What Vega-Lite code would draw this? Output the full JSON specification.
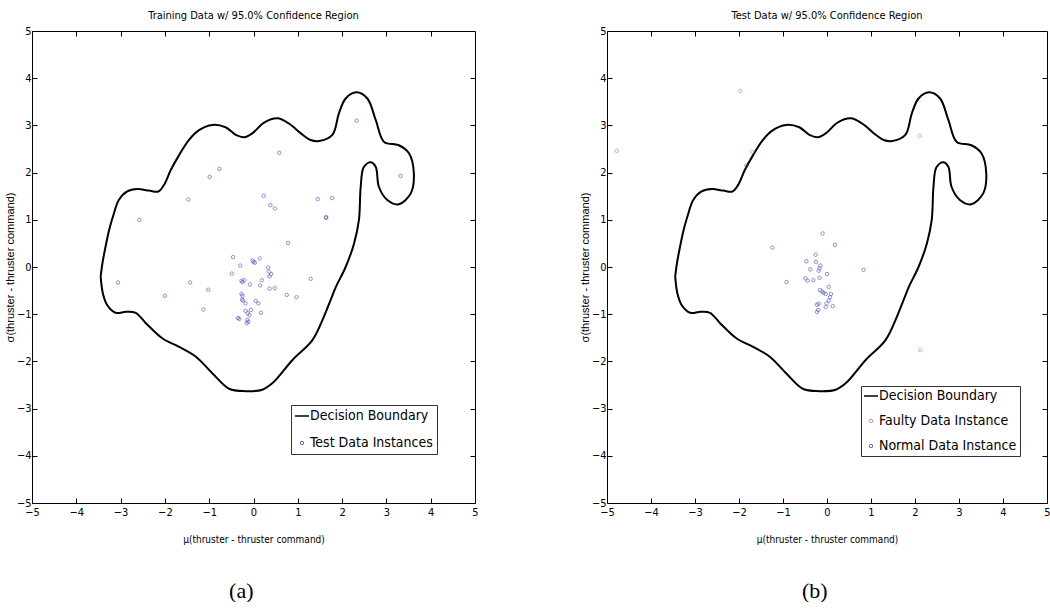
{
  "$schema": "https://vega.github.io/schema/vega-lite/v6.json",
  "padding": {"left": 4, "top": 10, "right": 0, "bottom": 0},
  "background": "white",
  "config": {"view": {"stroke": null}},
  "datasets": {
    "boundary": [
      {"i":1,"x":-3.45,"y":-0.2},{"i":2,"x":-3.41,"y":0.08},{"i":3,"x":-3.34,"y":0.43},{"i":4,"x":-3.26,"y":0.78},
      {"i":5,"x":-3.15,"y":1.14},{"i":6,"x":-3.04,"y":1.42},{"i":7,"x":-2.85,"y":1.6},{"i":8,"x":-2.62,"y":1.65},
      {"i":9,"x":-2.36,"y":1.62},{"i":10,"x":-2.15,"y":1.6},{"i":11,"x":-2.02,"y":1.74},{"i":12,"x":-1.87,"y":2.05},
      {"i":13,"x":-1.68,"y":2.37},{"i":14,"x":-1.46,"y":2.69},{"i":15,"x":-1.23,"y":2.9},{"i":16,"x":-0.93,"y":3.01},
      {"i":17,"x":-0.63,"y":2.96},{"i":18,"x":-0.4,"y":2.8},{"i":19,"x":-0.21,"y":2.75},{"i":20,"x":-0.03,"y":2.83},
      {"i":21,"x":0.24,"y":3.06},{"i":22,"x":0.54,"y":3.15},{"i":23,"x":0.8,"y":3.04},{"i":24,"x":1.07,"y":2.83},
      {"i":25,"x":1.29,"y":2.69},{"i":26,"x":1.48,"y":2.67},{"i":27,"x":1.78,"y":2.8},{"i":28,"x":1.93,"y":3.26},
      {"i":29,"x":2.08,"y":3.57},{"i":30,"x":2.32,"y":3.7},{"i":31,"x":2.57,"y":3.57},{"i":32,"x":2.76,"y":3.11},
      {"i":33,"x":2.95,"y":2.65},{"i":34,"x":3.28,"y":2.58},{"i":35,"x":3.51,"y":2.41},{"i":36,"x":3.62,"y":1.98},
      {"i":37,"x":3.55,"y":1.56},{"i":38,"x":3.28,"y":1.33},{"i":39,"x":3.02,"y":1.42},{"i":40,"x":2.83,"y":1.7},
      {"i":41,"x":2.76,"y":2.12},{"i":42,"x":2.65,"y":2.22},{"i":43,"x":2.49,"y":2.12},{"i":44,"x":2.42,"y":1.7},
      {"i":45,"x":2.38,"y":1.0},{"i":46,"x":2.27,"y":0.5},{"i":47,"x":2.08,"y":0.0},{"i":48,"x":1.86,"y":-0.42},
      {"i":49,"x":1.74,"y":-0.7},{"i":50,"x":1.59,"y":-1.05},{"i":51,"x":1.33,"y":-1.55},{"i":52,"x":0.88,"y":-1.97},
      {"i":53,"x":0.43,"y":-2.46},{"i":54,"x":0.2,"y":-2.6},{"i":55,"x":-0.18,"y":-2.63},{"i":56,"x":-0.55,"y":-2.58},
      {"i":57,"x":-0.93,"y":-2.25},{"i":58,"x":-1.3,"y":-1.9},{"i":59,"x":-1.68,"y":-1.69},{"i":60,"x":-2.06,"y":-1.51},
      {"i":61,"x":-2.43,"y":-1.19},{"i":62,"x":-2.66,"y":-0.97},{"i":63,"x":-2.88,"y":-0.95},{"i":64,"x":-3.11,"y":-0.97},
      {"i":65,"x":-3.3,"y":-0.81},{"i":66,"x":-3.4,"y":-0.56},{"i":67,"x":-3.45,"y":-0.2}
    ],
    "train": [
      {"x":2.33,"y":3.1},{"x":3.32,"y":1.93},{"x":0.58,"y":2.42},{"x":-0.77,"y":2.08},{"x":-0.99,"y":1.91},
      {"x":-1.47,"y":1.43},{"x":-2.58,"y":1.0},{"x":0.23,"y":1.51},{"x":0.38,"y":1.31},{"x":0.48,"y":1.24},
      {"x":1.45,"y":1.44},{"x":1.78,"y":1.46},{"x":1.64,"y":1.04},{"x":1.64,"y":1.06},{"x":0.78,"y":0.51},
      {"x":-0.46,"y":0.21},{"x":0.0,"y":0.11},{"x":-0.02,"y":0.14},{"x":0.03,"y":0.09},{"x":0.14,"y":0.18},
      {"x":-0.3,"y":0.03},{"x":0.33,"y":-0.01},{"x":0.35,"y":-0.1},{"x":0.4,"y":-0.15},{"x":0.36,"y":-0.2},
      {"x":-0.49,"y":-0.14},{"x":-0.27,"y":-0.29},{"x":-0.25,"y":-0.32},{"x":-0.21,"y":-0.28},{"x":-0.08,"y":-0.37},
      {"x":0.15,"y":-0.39},{"x":0.19,"y":-0.28},{"x":0.36,"y":-0.46},{"x":0.48,"y":-0.45},{"x":1.29,"y":-0.25},
      {"x":-3.06,"y":-0.33},{"x":-1.43,"y":-0.33},{"x":-1.02,"y":-0.48},{"x":-2.0,"y":-0.61},{"x":0.75,"y":-0.59},
      {"x":0.97,"y":-0.64},{"x":-0.27,"y":-0.57},{"x":-0.25,"y":-0.61},{"x":-0.26,"y":-0.69},{"x":-0.24,"y":-0.71},
      {"x":0.05,"y":-0.72},{"x":0.11,"y":-0.77},{"x":-0.18,"y":-0.77},{"x":-1.13,"y":-0.9},{"x":0.17,"y":-0.97},
      {"x":-0.18,"y":-0.93},{"x":-0.13,"y":-0.98},{"x":-0.09,"y":-1.02},{"x":-0.06,"y":-0.91},{"x":-0.32,"y":-1.1},
      {"x":-0.14,"y":-1.12},{"x":-0.12,"y":-1.16},{"x":-0.15,"y":-1.19},{"x":-0.35,"y":-1.08}
    ],
    "test": [
      {"x":-4.78,"y":2.46,"type":"Faulty Data Instance"},{"x":-1.7,"y":2.44,"type":"Faulty Data Instance"},
      {"x":2.12,"y":-1.76,"type":"Faulty Data Instance"},{"x":-1.97,"y":3.73,"type":"Faulty Data Instance"},
      {"x":2.1,"y":2.78,"type":"Faulty Data Instance"},
      {"x":-1.83,"y":2.15,"type":"Normal Data Instance"},{"x":-0.1,"y":0.71,"type":"Normal Data Instance"},
      {"x":-1.24,"y":0.41,"type":"Normal Data Instance"},{"x":0.18,"y":0.47,"type":"Normal Data Instance"},
      {"x":-0.26,"y":0.26,"type":"Normal Data Instance"},{"x":-0.47,"y":0.12,"type":"Normal Data Instance"},
      {"x":-0.25,"y":0.11,"type":"Normal Data Instance"},{"x":-0.15,"y":0.03,"type":"Normal Data Instance"},
      {"x":-0.17,"y":-0.03,"type":"Normal Data Instance"},{"x":-0.19,"y":-0.08,"type":"Normal Data Instance"},
      {"x":-0.38,"y":-0.05,"type":"Normal Data Instance"},{"x":0.0,"y":-0.15,"type":"Normal Data Instance"},
      {"x":-0.92,"y":-0.32,"type":"Normal Data Instance"},{"x":-0.49,"y":-0.24,"type":"Normal Data Instance"},
      {"x":-0.44,"y":-0.29,"type":"Normal Data Instance"},{"x":-0.31,"y":-0.28,"type":"Normal Data Instance"},
      {"x":-0.17,"y":-0.23,"type":"Normal Data Instance"},{"x":0.04,"y":-0.42,"type":"Normal Data Instance"},
      {"x":0.83,"y":-0.06,"type":"Normal Data Instance"},{"x":-0.16,"y":-0.49,"type":"Normal Data Instance"},
      {"x":-0.11,"y":-0.52,"type":"Normal Data Instance"},{"x":-0.08,"y":-0.55,"type":"Normal Data Instance"},
      {"x":-0.03,"y":-0.57,"type":"Normal Data Instance"},{"x":0.09,"y":-0.57,"type":"Normal Data Instance"},
      {"x":0.07,"y":-0.64,"type":"Normal Data Instance"},{"x":0.04,"y":-0.71,"type":"Normal Data Instance"},
      {"x":-0.01,"y":-0.77,"type":"Normal Data Instance"},{"x":-0.19,"y":-0.78,"type":"Normal Data Instance"},
      {"x":-0.2,"y":-0.91,"type":"Normal Data Instance"},{"x":-0.03,"y":-0.85,"type":"Normal Data Instance"},
      {"x":0.13,"y":-0.83,"type":"Normal Data Instance"},{"x":-0.23,"y":-0.8,"type":"Normal Data Instance"},
      {"x":-0.23,"y":-0.95,"type":"Normal Data Instance"}
    ]
  },
  "hconcat": [
    {
      "title": {"text": "(a)", "orient": "bottom", "anchor": "middle", "font": "Liberation Serif", "fontSize": 22, "fontWeight": "normal", "color": "black", "offset": 37},
      "vconcat": [
        {
          "width": 443,
          "height": 472,
          "title": {"text": "Training Data w/ 95.0% Confidence Region", "font": "DejaVu Sans Condensed, Liberation Sans", "fontSize": 11, "fontWeight": "normal", "color": "black", "offset": 4},
          "layer": [
            {
              "data": {"name": "boundary"},
              "mark": {"type": "line", "interpolate": "catmull-rom", "strokeWidth": 2},
              "encoding": {
                "x": {"field": "x", "type": "quantitative", "scale": {"domain": [-5, 5], "nice": false, "zero": false},
                  "axis": {"orient": "bottom", "values": [-5,-4,-3,-2,-1,0,1,2,3,4,5], "tickSize": -5, "labelPadding": 8, "labelFlush": false, "labelOverlap": false, "labelBound": false,
                    "labelFont": "DejaVu Sans Condensed, Liberation Sans", "labelFontSize": 11, "labelColor": "black", "domainColor": "black", "tickColor": "black", "grid": false,
                    "title": "μ(thruster - thruster command)", "titleFont": "DejaVu Sans Condensed, Liberation Sans", "titleFontSize": 10, "titleFontWeight": "normal", "titleColor": "black", "titlePadding": 17}},
                "y": {"field": "y", "type": "quantitative", "scale": {"domain": [-5, 5], "nice": false, "zero": false},
                  "axis": {"orient": "left", "values": [-5,-4,-3,-2,-1,0,1,2,3,4,5], "tickSize": -5, "labelPadding": 6, "labelFlush": false, "labelOverlap": false, "labelBound": false,
                    "labelFont": "DejaVu Sans Condensed, Liberation Sans", "labelFontSize": 11, "labelColor": "black", "domainColor": "black", "tickColor": "black", "grid": false,
                    "title": "σ(thruster - thruster command)", "titleFont": "Liberation Sans", "titleFontSize": 11, "titleFontWeight": "normal", "titleColor": "black", "titlePadding": 1}},
                "order": {"field": "i", "type": "quantitative"},
                "color": {"datum": "Decision Boundary", "type": "nominal",
                  "scale": {"domain": ["Decision Boundary", "Test Data Instances"], "range": ["black", "#3c3cb0"]},
                  "legend": {"orient": "none", "legendX": 259, "legendY": 374, "title": null, "strokeColor": "#333333", "fillColor": "white", "padding": 4, "rowPadding": 13,
                    "labelFont": "DejaVu Sans Condensed, Liberation Sans", "labelFontSize": 14, "labelColor": "black", "labelOffset": 1, "symbolOffset": 0,
                    "encode": {"symbols": {"update": {
                      "shape": {"signal": "datum.value === 'Decision Boundary' ? 'stroke' : 'circle'"},
                      "size": {"signal": "datum.value === 'Decision Boundary' ? 196 : 12"},
                      "fill": {"value": "transparent"},
                      "strokeWidth": {"signal": "datum.value === 'Decision Boundary' ? 1.5 : 0.8"}}}}}}
              }
            },
            {
              "data": {"name": "train"},
              "mark": {"type": "point", "size": 12, "strokeWidth": 0.8, "filled": false},
              "encoding": {
                "x": {"field": "x", "type": "quantitative", "scale": {"domain": [-5, 5], "nice": false, "zero": false},
                  "axis": {"orient": "top", "values": [-4,-3,-2,-1,0,1,2,3,4], "tickSize": -5, "labels": false, "title": null, "domainColor": "black", "tickColor": "black", "grid": false}},
                "y": {"field": "y", "type": "quantitative", "scale": {"domain": [-5, 5], "nice": false, "zero": false},
                  "axis": {"orient": "right", "values": [-4,-3,-2,-1,0,1,2,3,4], "tickSize": -5, "labels": false, "title": null, "domainColor": "black", "tickColor": "black", "grid": false}},
                "color": {"datum": "Test Data Instances", "type": "nominal", "legend": {"title": null}}
              }
            }
          ],
          "resolve": {"axis": {"x": "independent", "y": "independent"}}
        }
      ]
    },
    {
      "title": {"text": "(b)", "orient": "bottom", "anchor": "middle", "font": "Liberation Serif", "fontSize": 22, "fontWeight": "normal", "color": "black", "offset": 37},
      "vconcat": [
        {
          "width": 440,
          "height": 472,
          "title": {"text": "Test Data w/ 95.0% Confidence Region", "font": "DejaVu Sans Condensed, Liberation Sans", "fontSize": 11, "fontWeight": "normal", "color": "black", "offset": 4},
          "layer": [
            {
              "data": {"name": "boundary"},
              "mark": {"type": "line", "interpolate": "catmull-rom", "strokeWidth": 2},
              "encoding": {
                "x": {"field": "x", "type": "quantitative", "scale": {"domain": [-5, 5], "nice": false, "zero": false},
                  "axis": {"orient": "bottom", "values": [-5,-4,-3,-2,-1,0,1,2,3,4,5], "tickSize": -5, "labelPadding": 8, "labelFlush": false, "labelOverlap": false, "labelBound": false,
                    "labelFont": "DejaVu Sans Condensed, Liberation Sans", "labelFontSize": 11, "labelColor": "black", "domainColor": "black", "tickColor": "black", "grid": false,
                    "title": "μ(thruster - thruster command)", "titleFont": "DejaVu Sans Condensed, Liberation Sans", "titleFontSize": 10, "titleFontWeight": "normal", "titleColor": "black", "titlePadding": 17}},
                "y": {"field": "y", "type": "quantitative", "scale": {"domain": [-5, 5], "nice": false, "zero": false},
                  "axis": {"orient": "left", "values": [-5,-4,-3,-2,-1,0,1,2,3,4,5], "tickSize": -5, "labelPadding": 6, "labelFlush": false, "labelOverlap": false, "labelBound": false,
                    "labelFont": "DejaVu Sans Condensed, Liberation Sans", "labelFontSize": 11, "labelColor": "black", "domainColor": "black", "tickColor": "black", "grid": false,
                    "title": "σ(thruster - thruster command)", "titleFont": "Liberation Sans", "titleFontSize": 11, "titleFontWeight": "normal", "titleColor": "black", "titlePadding": 1}},
                "order": {"field": "i", "type": "quantitative"},
                "color": {"datum": "Decision Boundary", "type": "nominal",
                  "scale": {"domain": ["Decision Boundary", "Faulty Data Instance", "Normal Data Instance"], "range": ["black", "#e06a6a", "#3c3cb0"]},
                  "legend": {"orient": "none", "legendX": 254, "legendY": 355, "title": null, "strokeColor": "#333333", "fillColor": "white", "padding": 3, "rowPadding": 11,
                    "labelFont": "DejaVu Sans Condensed, Liberation Sans", "labelFontSize": 14, "labelColor": "black", "labelOffset": 1, "symbolOffset": 0,
                    "encode": {"symbols": {"update": {
                      "shape": {"signal": "datum.value === 'Decision Boundary' ? 'stroke' : 'circle'"},
                      "size": {"signal": "datum.value === 'Decision Boundary' ? 196 : 12"},
                      "fill": {"value": "transparent"},
                      "strokeWidth": {"signal": "datum.value === 'Decision Boundary' ? 1.5 : 0.8"}}}}}}
              }
            },
            {
              "data": {"name": "test"},
              "mark": {"type": "point", "size": 12, "strokeWidth": 0.8, "filled": false},
              "encoding": {
                "x": {"field": "x", "type": "quantitative", "scale": {"domain": [-5, 5], "nice": false, "zero": false},
                  "axis": {"orient": "top", "values": [-4,-3,-2,-1,0,1,2,3,4], "tickSize": -5, "labels": false, "title": null, "domainColor": "black", "tickColor": "black", "grid": false}},
                "y": {"field": "y", "type": "quantitative", "scale": {"domain": [-5, 5], "nice": false, "zero": false},
                  "axis": {"orient": "right", "values": [-4,-3,-2,-1,0,1,2,3,4], "tickSize": -5, "labels": false, "title": null, "domainColor": "black", "tickColor": "black", "grid": false}},
                "color": {"field": "type", "type": "nominal", "legend": {"title": null}}
              }
            }
          ],
          "resolve": {"axis": {"x": "independent", "y": "independent"}}
        }
      ]
    }
  ],
  "spacing": 100,
  "resolve": {"scale": {"color": "independent"}, "legend": {"color": "independent"}}
}
